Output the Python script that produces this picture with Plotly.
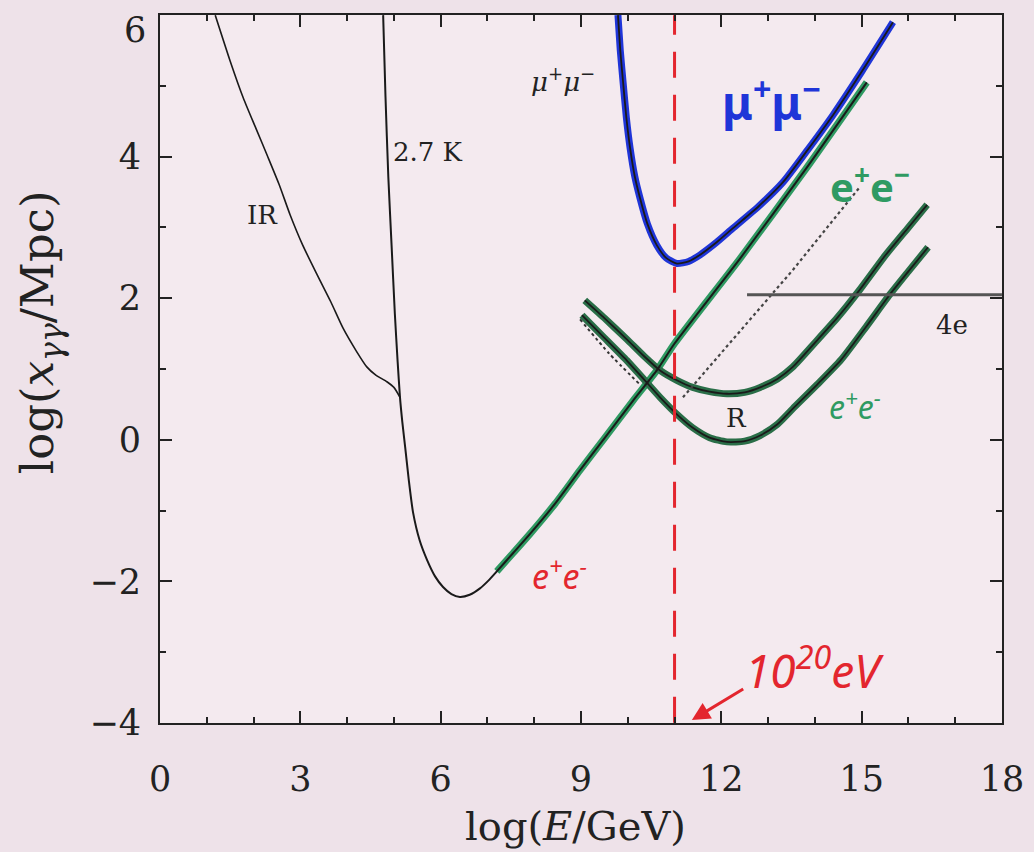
import plotly.graph_objects as go

# ---------------- data ----------------
ir_x = [1.18, 1.5, 1.78, 2.05, 2.29, 2.55, 2.78, 3.05, 3.36, 3.65, 3.91, 4.2, 4.42, 4.62, 4.85, 5.0, 5.13]
ir_y = [6.0, 5.35, 4.83, 4.4, 4.02, 3.6, 3.18, 2.75, 2.33, 1.95, 1.58, 1.25, 1.03, 0.91, 0.82, 0.74, 0.60]

cmb_x = [4.77, 4.82, 4.88, 4.95, 5.02, 5.08, 5.13, 5.18, 5.24, 5.32, 5.41, 5.55, 5.71, 5.88, 6.05, 6.23,
         6.41, 6.62, 6.84, 7.02, 7.2, 7.55, 7.91, 8.45, 8.98, 9.5, 10.11, 10.62, 11.0, 12.4, 13.8, 15.11]
cmb_y = [6.0, 4.85, 3.72, 2.75, 1.78, 1.1, 0.60, 0.25, -0.10, -0.58, -1.03, -1.42, -1.70, -1.93, -2.08, -2.18,
         -2.22, -2.19, -2.10, -1.99, -1.86, -1.6, -1.33, -0.9, -0.43, 0.02, 0.55, 0.98, 1.36, 2.56, 3.82, 5.05]

mu_x = [9.79, 9.84, 9.90, 9.97, 10.05, 10.15, 10.26, 10.42, 10.62, 10.82, 11.05, 11.3, 11.54, 11.9,
        12.25, 12.8, 13.32, 13.85, 14.39, 15.0, 15.67]
mu_y = [6.0, 5.5, 5.05, 4.55, 4.12, 3.72, 3.42, 3.05, 2.75, 2.57, 2.49, 2.52, 2.61, 2.79,
        2.99, 3.3, 3.64, 4.1, 4.59, 5.2, 5.90]

radioA_x = [9.08, 9.5, 9.98, 10.35, 10.69, 11.05, 11.39, 11.75, 12.12, 12.5, 12.83, 13.2, 13.53, 14.0,
            14.5, 14.96, 15.5, 16.0, 16.40]
radioA_y = [1.97, 1.72, 1.42, 1.18, 0.98, 0.84, 0.74, 0.68, 0.65, 0.67, 0.74, 0.86, 1.03, 1.37,
            1.74, 2.12, 2.6, 3.0, 3.32]

radioB_x = [9.02, 9.5, 9.98, 10.35, 10.69, 11.05, 11.39, 11.75, 12.12, 12.5, 12.83, 13.2, 13.53, 14.05,
            14.56, 15.1, 15.60, 16.0, 16.42]
radioB_y = [1.76, 1.44, 1.12, 0.85, 0.60, 0.36, 0.17, 0.03, -0.03, -0.02, 0.06, 0.22, 0.44, 0.78,
            1.13, 1.6, 2.05, 2.38, 2.72]

dotB_x = [8.98, 9.6, 10.26]
dotB_y = [1.70, 1.22, 0.78]

dotD_x = [11.18, 13.53, 14.96]
dotD_y = [0.60, 2.40, 3.57]

four_e_x = [12.55, 18.0]
four_e_y = [2.05, 2.05]

e20_x = [11.0, 11.0]
e20_y = [-4.0, 6.0]

x_tickvals = [0, 3, 6, 9, 12, 15, 18]
y_tickvals = [-4, -2, 0, 2, 4, 6]
y_top_tick = 6   # drawn slightly lower, as in the reference

green_start = 7.05

# ---------------- colours ----------------
GREEN = "#2f9a62"
DGREEN = "#2a6e48"
BLUE = "#1f35d8"
RED = "#e3262e"
INK = "#1a1a1a"

fig = go.Figure()

def line(x, y, color, width, dash="solid", shape="spline"):
    fig.add_trace(go.Scatter(x=x, y=y, mode="lines",
                             line=dict(color=color, width=width, dash=dash, shape=shape, smoothing=0.6),
                             hoverinfo="skip", showlegend=False))

# green highlight under the pair-production curve
gx = [x for x in cmb_x if x >= green_start]
gy = [y for x, y in zip(cmb_x, cmb_y) if x >= green_start]
line(gx, gy, GREEN, 7)

# radio curves (green marker + black core)
line(radioA_x, radioA_y, DGREEN, 7)
line(radioB_x, radioB_y, DGREEN, 7)
line(radioA_x, radioA_y, INK, 1.8)
line(radioB_x, radioB_y, INK, 1.8)

# muon curve (blue marker + black core)
line(mu_x, mu_y, BLUE, 7)
line(mu_x, mu_y, INK, 1.8)

# black curves
line(ir_x, ir_y, INK, 1.6)
line(cmb_x, cmb_y, INK, 2)

# dotted lines
line(dotB_x, dotB_y, "#333", 2, dash="dot")
line(dotD_x, dotD_y, "#444", 2.2, dash="dot", shape="linear")

# 4e line
line(four_e_x, four_e_y, "#555", 3, shape="linear")

# red dashed 10^20 eV line
line(e20_x, e20_y, RED, 3, dash="26px,17px", shape="linear")

SERIF = "DejaVu Serif"
HAND = "Noto Sans"

def label(x, y, text, size, color="#222", family=SERIF, **kw):
    fig.add_annotation(x=x, y=y, xref="x", yref="y", text=text, showarrow=False,
                       font=dict(family=family, size=size, color=color), **kw)

label(2.18, 3.18, "IR", 26)
label(5.73, 4.07, "2.7 K", 26)
label(8.61, 5.08, "<i>μ</i><sup>+</sup><i>μ</i><sup>−</sup>", 26)
label(16.93, 1.62, "4e", 26)
label(12.33, 0.31, "R", 26)
label(13.08, 4.8, "<b>μ<sup>+</sup>μ<sup>−</sup></b>", 46, color=BLUE, family=HAND)
label(15.18, 3.6, "<b>e<sup>+</sup>e<sup>−</sup></b>", 40, color=GREEN, family=HAND)
label(14.86, 0.49, "<i>e<sup>+</sup>e<sup>−</sup></i>", 32, color=GREEN, family=HAND)
label(8.55, -1.91, "<i>e<sup>+</sup>e<sup>−</sup></i>", 34, color=RED, family=HAND)
label(14.0, -3.22, "<i>10<sup>20</sup>eV</i>", 46, color=RED, family=HAND)

# top y tick label, nudged down so it is not cut off
fig.add_annotation(x=0, y=y_top_tick, xref="paper", yref="y", xanchor="right", yanchor="middle",
                   xshift=-12, yshift=-15, showarrow=False, text=str(y_top_tick),
                   font=dict(family=SERIF, size=35, color="#222"))

# arrow
fig.add_annotation(x=11.37, y=-3.96, ax=12.5, ay=-3.51, xref="x", yref="y", axref="x", ayref="y",
                   text="", showarrow=True, arrowhead=2, arrowsize=1.2, arrowwidth=3, arrowcolor=RED)

# axis titles
fig.add_annotation(x=0.493, y=-0.1455, xref="paper", yref="paper", xanchor="center", yanchor="middle",
                   showarrow=False, text="log(<i>E</i>/GeV)", font=dict(family=SERIF, size=40, color="#222"))
fig.add_annotation(x=-0.1425, y=0.552, xref="paper", yref="paper", xanchor="center", yanchor="middle",
                   showarrow=False, textangle=-90,
                   text="log(<i>x</i><sub><i>γγ</i></sub>/Mpc)", font=dict(family=SERIF, size=45, color="#222"))

axis_common = dict(showgrid=False, zeroline=False, showline=True, linecolor="#222", linewidth=2,
                   mirror="allticks", ticks="inside", ticklen=12, tickwidth=1.5, tickcolor="#222",
                   tickfont=dict(family=SERIF, size=35, color="#222"), ticklabeloverflow="allow",
                   automargin=False)

fig.update_xaxes(range=[-0.001, 18.001], tickmode="array", tickvals=x_tickvals,
                 ticktext=[str(v) for v in x_tickvals],
                 minor=dict(ticks="inside", ticklen=6, tickwidth=1.5, tickcolor="#222", dtick=1, showgrid=False),
                 ticklabelstandoff=24, **axis_common)
fig.update_yaxes(range=[-4.002, 6.002], tickmode="array", tickvals=y_tickvals,
                 ticktext=["" if v == y_top_tick else ("−" + str(-v) if v < 0 else str(v)) for v in y_tickvals],
                 minor=dict(ticks="inside", ticklen=6, tickwidth=1.5, tickcolor="#222", dtick=1, showgrid=False),
                 ticklabelstandoff=10, **axis_common)

fig.update_layout(width=1034, height=852, margin=dict(l=160, r=32, t=15, b=129),
                  paper_bgcolor="#eee2e9", plot_bgcolor="#f4eaef", showlegend=False)

fig.write_html("out.html")
